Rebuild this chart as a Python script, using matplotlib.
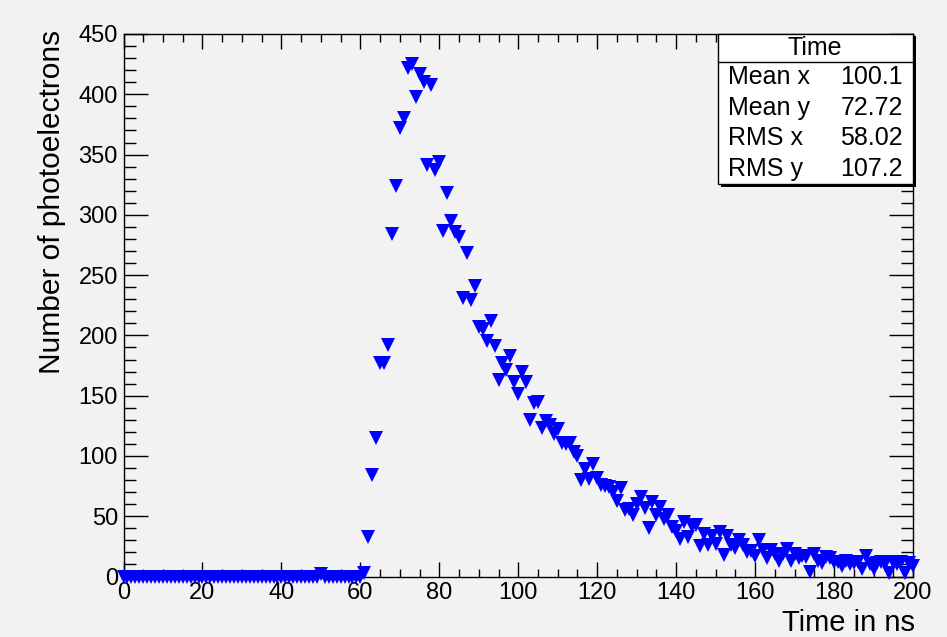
import matplotlib
matplotlib.use("Agg")
import matplotlib.pyplot as plt
from matplotlib.patches import Rectangle
from matplotlib.lines import Line2D
from matplotlib.ticker import MultipleLocator

plt.rcParams['font.family'] = ['Liberation Sans', 'DejaVu Sans']

# ---- data ----
time_ns = list(range(0, 201))
early_counts = [0] * 62          # t = 0 .. 61
early_counts[50] = 2
early_counts[61] = 3
pulse_counts = [
    33, 84, 115, 177, 177, 192, 284, 324, 372,            # 62-70
    380, 422, 425, 398, 417, 410, 341, 408, 337, 344,     # 71-80
    287, 318, 295, 286, 282, 231, 268, 229, 241, 207,     # 81-90
    205, 195, 212, 191, 163, 177, 171, 183, 161, 151,     # 91-100
    170, 161, 130, 144, 145, 123, 129, 126, 118, 122,     # 101-110
    111, 110, 111, 103, 100, 80, 89, 81, 93, 82,          # 111-120
    76, 75, 74, 70, 63, 73, 55, 56, 51, 60,               # 121-130
    66, 57, 40, 62, 51, 58, 48, 51, 41, 38,               # 131-140
    31, 45, 33, 42, 43, 25, 35, 26, 34, 27,               # 141-150
    37, 18, 34, 26, 24, 30, 26, 20, 21, 17,               # 151-160
    30, 22, 15, 22, 19, 13, 19, 23, 13, 19,               # 161-170
    15, 17, 16, 4, 19, 13, 11, 16, 15, 12,                # 171-180
    12, 9, 13, 10, 11, 12, 6, 17, 10, 6,                  # 181-190
    11, 12, 10, 3, 12, 10, 12, 3, 11, 9,                  # 191-200
]
photoelectrons = early_counts + pulse_counts

stats_title = "Time"
stats_labels = ["Mean x", "Mean y", "RMS x", "RMS y"]
stats_values = ["100.1", "72.72", "58.02", "107.2"]

W, H = 947, 637
fig = plt.figure(figsize=(W / 100, H / 100), dpi=100)
fig.patch.set_facecolor('#f2f2f2')

def fx(px):
    return px / W

def fy(py):
    return 1 - py / H

L, R, T, B = 123.5, 913, 34, 576.5
ax = fig.add_axes([fx(L), fy(B), fx(R) - fx(L), fy(T) - fy(B)])
ax.set_facecolor('#f2f2f2')

ax.plot(time_ns, photoelectrons, linestyle='none', marker='v', markersize=10,
        color='#0000ff', markeredgewidth=0, clip_on=False, zorder=3)

ax.set_xlim(0, 200)
ax.set_ylim(0, 450)
ax.xaxis.set_major_locator(MultipleLocator(20))
ax.xaxis.set_minor_locator(MultipleLocator(5))
ax.yaxis.set_major_locator(MultipleLocator(50))
ax.yaxis.set_minor_locator(MultipleLocator(10))

ax.tick_params(axis='both', which='both', direction='in', top=True, right=True,
               color='black', width=1.0, labelsize=17)
ax.tick_params(axis='x', which='major', length=11, pad=4)
ax.tick_params(axis='x', which='minor', length=5.5)
ax.tick_params(axis='y', which='major', length=17.5, pad=4)
ax.tick_params(axis='y', which='minor', length=8.5)
for s in ax.spines.values():
    s.set_linewidth(1.0)
    s.set_color('black')

fig.text(fx(915), fy(623), "Time in ns", ha='right', va='center', fontsize=21)
fig.text(fx(52), fy(30), "Number of photoelectrons", ha='center', va='top',
         rotation=90, fontsize=21.5)

# stats box
bx0, by0, bx1, by1 = 717.5, 33.5, 912.5, 183.5
fig.add_artist(Rectangle((fx(bx0 + 3), fy(by1 + 3)), fx(bx1 - bx0), fy(by0) - fy(by1),
                         transform=fig.transFigure, facecolor='black', edgecolor='black',
                         linewidth=0, zorder=9))
fig.add_artist(Rectangle((fx(bx0), fy(by1)), fx(bx1 - bx0), fy(by0) - fy(by1),
                         transform=fig.transFigure, facecolor='white', edgecolor='black',
                         linewidth=1.0, zorder=10))
fig.add_artist(Line2D([fx(bx0), fx(bx1)], [fy(62.3), fy(62.3)], transform=fig.transFigure,
                      color='black', linewidth=1.0, zorder=11))
fig.text(fx(815), fy(55), stats_title, ha='center', va='baseline', fontsize=18, zorder=12)
baselines = [84.5, 115, 145, 176]
for lab, val, bl in zip(stats_labels, stats_values, baselines):
    fig.text(fx(728), fy(bl), lab, ha='left', va='baseline', fontsize=18, zorder=12)
    fig.text(fx(903), fy(bl), val, ha='right', va='baseline', fontsize=18, zorder=12)

fig.savefig("out.png", dpi=100, facecolor=fig.get_facecolor())
